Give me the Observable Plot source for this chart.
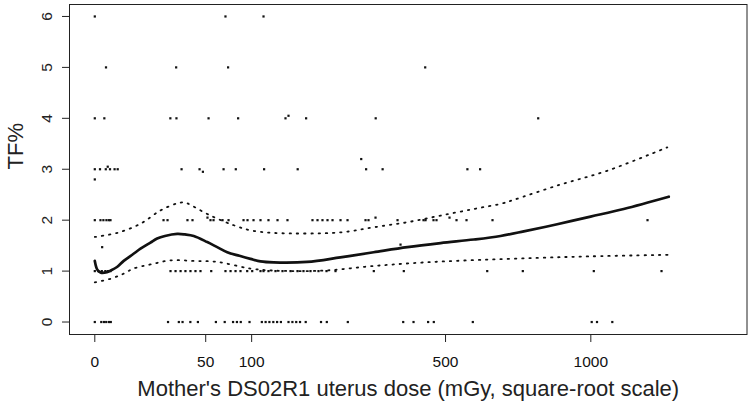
<!DOCTYPE html>
<html>
<head>
<meta charset="utf-8">
<script src="https://cdn.jsdelivr.net/npm/d3@7"></script>
<script src="https://cdn.jsdelivr.net/npm/@observablehq/plot@0.6"></script>
<style>
  html, body { margin: 0; padding: 0; background: white; }
  #chart svg { display: block; }
</style>
</head>
<body>
<div id="chart"></div>
<script>
// Tick labels
const xTicks = [0, 50, 100, 500, 1000];
const yTicks = [0, 1, 2, 3, 4, 5, 6];

// Individual observations: mother's uterus dose (mGy) grouped by TF% value
const dosesAt0 = [0, 0.17, 0.34, 0.53, 0.81, 1.04, 21.8, 28.7, 31.3, 37.1, 43.2, 59.6, 68.6, 77.7, 82.1, 86.6, 97.3, 113.4, 118.6, 123.9, 129.5, 135.1, 140.8, 152.5, 158.7, 164.9, 171.2, 180.8, 208.0, 218.8, 260.2, 386.6, 412.9, 451.6, 467.1, 580.8, 1003.6, 1025.1, 1088.5];
const dosesAt1 = [0, 0.05, 0.2, 0.45, 0.7, 1.0, 23.3, 26.5, 29.9, 33.4, 37.2, 41.2, 45.4, 55.1, 69.4, 74.9, 80.5, 86.3, 94.4, 100.7, 111.6, 115.7, 122.6, 132.7, 143.2, 155.7, 167.0, 177.0, 189.1, 203.4, 218.2, 235.5, 316.4, 388.1, 625.9, 744.6, 1012.1, 1305.4];
const dosesAt2 = [0, 0.13, 0.3, 0.55, 0.8, 1.0, 19.2, 21.5, 34.9, 38.8, 54.4, 57.3, 66.3, 72.7, 89.9, 94.8, 102.4, 111.6, 122.6, 135.7, 150.9, 192.6, 201.6, 210.7, 220.1, 229.7, 245.4, 259.6, 297.9, 304.5, 372.5, 439.2, 444.6, 466.3, 474.6, 531.8, 561.6, 642.9, 1241.7];
const dosesAt3 = [0, 0.11, 0.49, 0.94, 1.59, 2.13, 30.6, 44.6, 67.4, 80.8, 116.5, 167.3, 299.2, 336.7, 564.3, 603.4];
const dosesAt4 = [0, 0.37, 23.2, 27.1, 52.6, 83.5, 147.8, 181.5, 320.7, 799.1];
const dosesAt5 = [0.51, 26.9, 72.2, 443.7];
const dosesAt6 = [0, 69.4, 115.7];
// Observations with non-integer TF%
const otherDoses = [0, 0.22, 0.68, 47.5, 51.6, 152.5, 288.5, 320.3, 379.9, 511.4];
const otherTF    = [2.8, 1.47, 3.05, 2.95, 2.05, 4.05, 3.2, 2.05, 1.52, 2.05];

// Fitted smooth and its pointwise confidence band
const fitDose = [0, 0.03, 0.15, 0.6, 1.0, 2.0, 3.4, 6.1, 8.5, 12.6, 15.8, 20, 27.6, 33, 39.8, 51.4, 60.9, 71.3, 85, 98.5, 111.6, 130, 183, 245, 316, 397, 486, 584, 669, 748, 869, 999, 1137, 1339];
const fitTF   = [1.20, 1.02, 0.97, 0.98, 1.01, 1.08, 1.20, 1.34, 1.44, 1.56, 1.64, 1.69, 1.73, 1.72, 1.69, 1.57, 1.47, 1.37, 1.30, 1.24, 1.19, 1.17, 1.18, 1.27, 1.37, 1.47, 1.55, 1.62, 1.69, 1.78, 1.92, 2.07, 2.22, 2.46];
const lowDose = [0, 1.0, 3.4, 6.1, 12.6, 23.3, 39.8, 60.9, 98.5, 130, 213, 316, 440, 600, 800, 1000, 1339];
const lowTF   = [0.78, 0.85, 0.95, 1.05, 1.13, 1.21, 1.20, 1.18, 1.05, 1.01, 1.01, 1.10, 1.17, 1.22, 1.26, 1.29, 1.32];
const upDose  = [0, 2.04, 8.5, 17.5, 27.6, 33, 37.2, 54.4, 78.5, 98.5, 130, 245, 316, 397, 486, 584, 669, 714, 869, 1067, 1332];
const upTF    = [1.67, 1.75, 1.93, 2.19, 2.33, 2.35, 2.30, 2.09, 1.90, 1.80, 1.75, 1.76, 1.86, 1.96, 2.09, 2.22, 2.32, 2.40, 2.68, 2.97, 3.43];

// Build tables
const points = [];
[dosesAt0, dosesAt1, dosesAt2, dosesAt3, dosesAt4, dosesAt5, dosesAt6].forEach((arr, tf) => {
  arr.forEach(d => points.push({dose: d, tf}));
});
otherDoses.forEach((d, i) => points.push({dose: d, tf: otherTF[i]}));
const fit = fitDose.map((d, i) => ({dose: d, tf: fitTF[i]}));
const lower = lowDose.map((d, i) => ({dose: d, tf: lowTF[i]}));
const upper = upDose.map((d, i) => ({dose: d, tf: upTF[i]}));

const sx = d => Math.sqrt(d.dose);
const ink = "#111";
const dotted = {x: sx, y: "tf", stroke: ink, strokeWidth: 1.8, strokeDasharray: "1.4,5.8", curve: "catmull-rom"};

const chart = Plot.plot({
  width: 749,
  height: 404,
  marginLeft: 69,
  marginRight: 2.5,
  marginTop: 4,
  marginBottom: 70,
  style: {fontFamily: "'Liberation Sans', Arial, sans-serif", background: "white", color: ink},
  x: {domain: [-1.613, 41.58]},
  y: {domain: [-0.245, 6.235]},
  marks: [
    Plot.frame({stroke: "#222", strokeWidth: 1}),
    Plot.axisX({
      ticks: xTicks.map(Math.sqrt),
      tickFormat: v => String(Math.round(v * v)),
      tickSize: 8, tickPadding: 13, fontSize: 15.5, label: null, stroke: "#222"
    }),
    Plot.axisY({
      ticks: yTicks, tickSize: 7, tickFormat: () => "", label: null, stroke: "#222"
    }),
    Plot.text(yTicks, {
      y: d => d, frameAnchor: "left", dx: -22.5, rotate: -90,
      text: d => String(d), fontSize: 15.5, fill: "#222", lineAnchor: "middle", textAnchor: "middle"
    }),
    Plot.text(["Mother's DS02R1 uterus dose (mGy, square-root scale)"], {
      frameAnchor: "bottom", dy: 54, fontSize: 22, fill: "#222", lineAnchor: "middle"
    }),
    Plot.text(["TF%"], {
      frameAnchor: "left", dx: -54, rotate: -90, fontSize: 22, fill: "#222", lineAnchor: "middle"
    }),
    Plot.dot(points, {x: sx, y: "tf", r: 1.25, symbol: "square", fill: ink, stroke: null}),
    Plot.line(lower, dotted),
    Plot.line(upper, dotted),
    Plot.line(fit, {x: sx, y: "tf", stroke: ink, strokeWidth: 2.7, curve: "catmull-rom"})
  ]
});
document.getElementById("chart").appendChild(chart);
</script>
</body>
</html>
